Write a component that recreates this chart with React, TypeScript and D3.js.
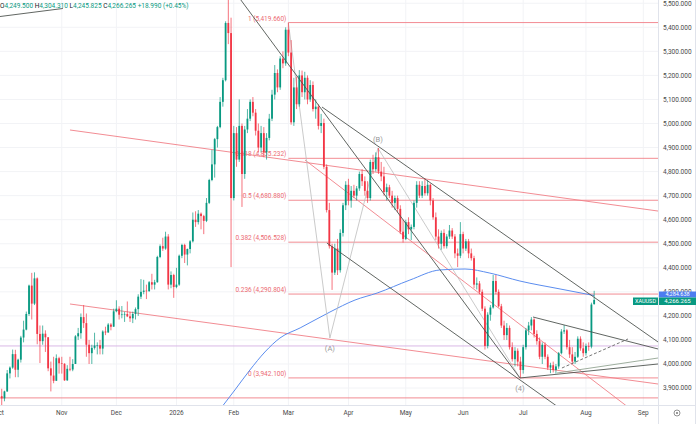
import React, { useEffect } from "react";
import * as d3 from "d3";

// [open, high, low, close] per trading day
type Bar = [number, number, number, number];
type Pt = [number, number]; // [bar index, price]

const octBars: Bar[] = [
  [3858, 3895, 3850, 3866], [3866, 3897, 3820, 3857], [3857, 3889, 3845, 3886],
  [3886, 3975, 3884, 3961], [3961, 3990, 3940, 3985], [3985, 4060, 3980, 4041],
  [4041, 4059, 3945, 3976], [3976, 4022, 3945, 4018], [4018, 4117, 4006, 4110],
  [4110, 4180, 4090, 4143], [4143, 4218, 4140, 4208], [4208, 4330, 4200, 4326],
  [4326, 4379, 4185, 4251], [4251, 4381, 4245, 4356], [4356, 4360, 4082, 4125],
  [4125, 4160, 4004, 4095], [4095, 4160, 4080, 4126], [4126, 4140, 4050, 4111],
  [4111, 4112, 3970, 3982], [3982, 4010, 3886, 3952], [3952, 4030, 3920, 3930],
  [3930, 4040, 3930, 4024], [4024, 4030, 3960, 4003],
];
const novBars: Bar[] = [
  [4003, 4030, 3960, 4001], [4001, 4003, 3930, 3932], [3932, 3995, 3930, 3980],
  [3980, 4030, 3970, 3977], [3977, 4020, 3970, 4000], [4000, 4120, 4000, 4115],
  [4115, 4150, 4100, 4128], [4128, 4210, 4105, 4195], [4195, 4245, 4150, 4170],
  [4170, 4210, 4030, 4080], [4080, 4100, 4000, 4045], [4045, 4080, 4000, 4067],
  [4067, 4130, 4060, 4077], [4077, 4090, 4040, 4078], [4078, 4100, 4040, 4064],
  [4064, 4140, 4040, 4135], [4135, 4155, 4120, 4131], [4131, 4170, 4130, 4164],
  [4164, 4170, 4140, 4155], [4155, 4230, 4155, 4219],
];
const decBars: Bar[] = [
  [4219, 4265, 4215, 4230], [4230, 4240, 4185, 4205], [4205, 4241, 4190, 4206],
  [4206, 4217, 4175, 4208], [4208, 4260, 4195, 4198], [4198, 4217, 4175, 4190],
  [4190, 4218, 4170, 4208], [4208, 4235, 4185, 4228], [4228, 4290, 4200, 4280],
  [4280, 4353, 4270, 4300], [4300, 4350, 4290, 4305], [4305, 4330, 4270, 4303],
  [4303, 4345, 4300, 4340], [4340, 4375, 4310, 4330], [4330, 4350, 4310, 4340],
  [4340, 4450, 4338, 4445], [4445, 4497, 4440, 4490], [4490, 4525, 4470, 4480],
  [4480, 4550, 4475, 4530], [4530, 4540, 4310, 4330], [4330, 4385, 4315, 4370],
  [4370, 4375, 4275, 4320],
];
const janBars: Bar[] = [
  [4320, 4400, 4315, 4330], [4330, 4455, 4325, 4450], [4450, 4500, 4440, 4495],
  [4495, 4500, 4420, 4455], [4455, 4480, 4410, 4478], [4478, 4515, 4460, 4510],
  [4510, 4630, 4505, 4600], [4600, 4635, 4570, 4590], [4590, 4640, 4580, 4625],
  [4625, 4630, 4560, 4615], [4615, 4620, 4540, 4595], [4595, 4690, 4590, 4670],
  [4670, 4770, 4665, 4765], [4765, 4890, 4760, 4830], [4830, 4940, 4775, 4935],
  [4935, 4990, 4900, 4985], [4985, 5110, 4980, 5090], [5090, 5190, 5070, 5180],
  [5180, 5425, 5175, 5418], [5418, 5595, 5330, 5376], [5376, 5440, 4403, 4690],
];
const febBars: Bar[] = [
  [4690, 4990, 4680, 4960], [4960, 4985, 4820, 4850], [4850, 5100, 4840, 4990],
  [4990, 5000, 4653, 4790], [4790, 4990, 4770, 4975], [4975, 5060, 4960, 5020],
  [5020, 5100, 5010, 5090], [5090, 5110, 5030, 5045], [5045, 5060, 4950, 4970],
  [4970, 5000, 4880, 4900], [4900, 4990, 4880, 4960], [4960, 4985, 4860, 4880],
  [4880, 4960, 4850, 4940], [4940, 5040, 4930, 5020], [5020, 5140, 5010, 5120],
  [5120, 5243, 5100, 5210], [5210, 5225, 5130, 5150], [5150, 5280, 5140, 5270],
  [5270, 5300, 5230, 5250], [5250, 5400, 5240, 5390],
];
const marBars: Bar[] = [
  [5390, 5419.66, 5280, 5295], [5295, 5347, 4995, 5005], [5005, 5190, 4990, 5150],
  [5150, 5195, 5060, 5080], [5080, 5222, 5070, 5200], [5200, 5220, 5110, 5130],
  [5130, 5215, 5100, 5190], [5190, 5200, 5080, 5100], [5100, 5180, 5090, 5160],
  [5160, 5175, 5050, 5060], [5060, 5100, 5020, 5070], [5070, 5080, 4975, 4990],
  [4990, 5040, 4960, 5002], [5002, 5020, 4810, 4820], [4820, 4830, 4630, 4640],
  [4640, 4670, 4480, 4490], [4490, 4500, 4308, 4380], [4380, 4500, 4370, 4480],
  [4480, 4520, 4370, 4390], [4390, 4560, 4380, 4545], [4545, 4670, 4530, 4660],
  [4660, 4760, 4640, 4745],
];
const aprBars: Bar[] = [
  [4745, 4770, 4660, 4680], [4680, 4740, 4650, 4720], [4720, 4745, 4690, 4700],
  [4700, 4740, 4680, 4730], [4730, 4800, 4720, 4790], [4790, 4810, 4740, 4760],
  [4760, 4780, 4700, 4720], [4720, 4760, 4670, 4690], [4690, 4850, 4680, 4840],
  [4840, 4870, 4790, 4810], [4810, 4880, 4800, 4860], [4860, 4898, 4790, 4800],
  [4800, 4840, 4760, 4780], [4780, 4820, 4700, 4715], [4715, 4750, 4680, 4735],
  [4735, 4745, 4690, 4700], [4700, 4720, 4650, 4670], [4670, 4700, 4640, 4690],
  [4690, 4700, 4630, 4645], [4645, 4660, 4540, 4550], [4550, 4600, 4505, 4520],
];
const mayBars: Bar[] = [
  [4520, 4600, 4515, 4590], [4590, 4610, 4540, 4560], [4560, 4580, 4515, 4570],
  [4570, 4680, 4560, 4670], [4670, 4760, 4650, 4745], [4745, 4760, 4690, 4700],
  [4700, 4760, 4690, 4740], [4740, 4773, 4700, 4710], [4710, 4765, 4700, 4745],
  [4745, 4750, 4660, 4680], [4680, 4690, 4600, 4610], [4610, 4630, 4515, 4530],
  [4530, 4560, 4480, 4500], [4500, 4555, 4475, 4545], [4545, 4560, 4480, 4490],
  [4490, 4540, 4480, 4530], [4530, 4578, 4520, 4555], [4555, 4565, 4520, 4530],
  [4530, 4540, 4440, 4460], [4460, 4480, 4403, 4450], [4450, 4590, 4440, 4540],
];
const junBars: Bar[] = [
  [4540, 4550, 4460, 4480], [4480, 4520, 4470, 4510], [4510, 4520, 4440, 4460],
  [4460, 4480, 4430, 4440], [4440, 4450, 4315, 4330], [4330, 4360, 4310, 4335],
  [4335, 4345, 4290, 4300], [4300, 4310, 4220, 4230], [4230, 4240, 4060, 4075],
  [4075, 4215, 4065, 4205], [4205, 4245, 4180, 4235], [4235, 4370, 4230, 4345],
  [4345, 4370, 4290, 4300], [4300, 4310, 4235, 4240], [4240, 4250, 4150, 4160],
  [4160, 4180, 4100, 4120], [4120, 4170, 4100, 4150], [4150, 4160, 4060, 4070],
  [4070, 4090, 4010, 4020], [4020, 4070, 3990, 4055], [4055, 4065, 3990, 4010],
  [4010, 4030, 3942.1, 3975],
];
const julBars: Bar[] = [
  [3975, 4080, 3960, 4070], [4070, 4150, 4060, 4140], [4140, 4175, 4120, 4160],
  [4160, 4195, 4140, 4185], [4185, 4190, 4110, 4125], [4125, 4140, 4080, 4095],
  [4095, 4110, 4020, 4030], [4030, 4090, 4000, 4080], [4080, 4090, 4020, 4030],
  [4030, 4040, 3975, 3985], [3985, 4005, 3962, 3995], [3995, 4010, 3965, 3975],
  [3975, 4000, 3960, 3990], [3990, 4050, 3980, 4045], [4045, 4145, 4040, 4135],
  [4135, 4162, 4125, 4140], [4140, 4145, 4060, 4070], [4070, 4100, 4025, 4040],
  [4040, 4070, 4000, 4010], [4010, 4050, 4000, 4030], [4030, 4115, 4025, 4105],
  [4105, 4115, 4055, 4065], [4065, 4090, 4030, 4045],
];
const augBars: Bar[] = [
  [4045, 4085, 4035, 4075], [4075, 4090, 4055, 4072],
  [4072, 4255, 4065, 4247.275], [4249.5, 4304.31, 4245.825, 4266.265],
];

const bars: Bar[] = [
  ...octBars, ...novBars, ...decBars, ...janBars, ...febBars, ...marBars,
  ...aprBars, ...mayBars, ...junBars, ...julBars, ...augBars,
];

const monthLabels = ["Oct", "Nov", "Dec", "2026", "Feb", "Mar", "Apr", "May", "Jun", "Jul", "Aug", "Sep"];
const monthStarts = [0, 23, 43, 65, 86, 106, 128, 149, 170, 192, 215, 236];
const priceTicks = [3900, 4000, 4100, 4200, 4300, 4400, 4500, 4600, 4700, 4800, 4900, 5000, 5100, 5200, 5300, 5400, 5500];

const fibRatios = ["1", "0.618", "0.5", "0.382", "0.236", "0"];
const fibPrices = [5419.66, 4855.232, 4680.88, 4506.528, 4290.804, 3942.1];
const fibStart = 106;

const maPoints: Pt[] = [
  [80.2, 3800], [86.4, 3892], [91.9, 3975], [97.4, 4050], [102.9, 4108],
  [110.3, 4150], [121.2, 4216], [130.4, 4266], [138.5, 4295], [150.5, 4349],
  [161.5, 4391], [170.7, 4395], [179.8, 4378], [190.8, 4345], [205.5, 4312],
  [218, 4284.638],
];

const redLines: Pt[][] = [
  [[26, 4973], [241.4, 4636]],
  [[26, 4249.5], [241.4, 3916.8]],
  [[112.1, 4848], [236.6, 3767]],
];
const redLevels = [3859];
const purpleLevels = [4075];
const darkLines: Pt[][] = [
  [[87, 5538], [190.8, 3942]],
  [[118.3, 5068.6], [241.4, 4091.5]],
  [[120.1, 4503.1], [204.8, 3821.2]],
  [[195.6, 4195.4], [241.4, 4062.4]],
  [[190.8, 3941.8], [241.4, 4000]],
  [[-1, 5442.8], [23.4, 5478.2]],
];
const greenLine: Pt[] = [[204.4, 3962.6], [241.4, 4024.9]];
const dashedLine: Pt[] = [[206.2, 3983.4], [230.4, 4104]];
const waveLine: Pt[] = [[106, 5418], [121.2, 4108], [138.8, 4898], [190.8, 3942]];
const waveLabels = ["", "(A)", "(B)", "(4)"];

const UP = "#089981";
const DOWN = "#f23645";
const RED_LINE = "#f07f87";
const FONT = "Roboto, 'DejaVu Sans', sans-serif";

const W = 696;
const H = 424;
const PANE_W = 658;
const PANE_H = 405;

const App: React.FC = () => {
  useEffect(() => {
    document.body.style.margin = "0";
  }, []);

  const x = d3.scaleLinear().domain([0, 236]).range([-1, 643.3]);
  const y = d3.scaleLinear().domain([3829.5, 5513.5]).range([PANE_H, 0]);
  const fmt = d3.format(",.3f");

  const seg = d3
    .line<Pt>()
    .x((d) => x(d[0]))
    .y((d) => y(d[1]));
  const maPath = d3
    .line<Pt>()
    .x((d) => x(d[0]))
    .y((d) => y(d[1]))
    .curve(d3.curveMonotoneX);

  const last = bars[bars.length - 1];
  const prevClose = bars[bars.length - 2][3];
  const chg = last[3] - prevClose;
  const pct = (chg / prevClose) * 100;

  const bodyW = 1.8;

  return (
    <svg width={W} height={H} style={{ display: "block", background: "#fff" }} fontFamily={FONT}>
      <defs>
        <clipPath id="pane">
          <rect x={0} y={0} width={PANE_W} height={PANE_H} />
        </clipPath>
      </defs>

      {/* grid */}
      <g stroke="#f2f3f6" strokeWidth={1}>
        {monthStarts.map((m, k) => (
          <line key={"gx" + k} x1={x(m)} x2={x(m)} y1={0} y2={PANE_H} />
        ))}
        {priceTicks.map((p) => (
          <line key={"gy" + p} x1={0} x2={PANE_W} y1={y(p)} y2={y(p)} />
        ))}
      </g>

      <g clipPath="url(#pane)">
        {/* horizontal levels */}
        {redLevels.map((p) => (
          <line key={"rl" + p} x1={0} x2={PANE_W} y1={y(p)} y2={y(p)} stroke={RED_LINE} strokeWidth={0.9} />
        ))}
        {purpleLevels.map((p) => (
          <line key={"pl" + p} x1={0} x2={PANE_W} y1={y(p)} y2={y(p)} stroke="#d9b8e6" strokeWidth={1} />
        ))}

        {/* fib retracement */}
        {fibPrices.map((p, k) => (
          <g key={"fib" + k}>
            <line x1={x(fibStart)} x2={PANE_W} y1={y(p)} y2={y(p)} stroke={RED_LINE} strokeWidth={0.9} />
            <text
              x={x(fibStart) - 2}
              y={y(p) - 2}
              textAnchor="end"
              fontSize={6.5}
              fill="#ec6a72"
            >
              {`${fibRatios[k]} (${fmt(p)})`}
            </text>
          </g>
        ))}

        {/* red trendlines */}
        {redLines.map((l, k) => (
          <path key={"rt" + k} d={seg(l) || ""} fill="none" stroke={RED_LINE} strokeWidth={0.9} />
        ))}

        {/* moving average */}
        <path d={maPath(maPoints) || ""} fill="none" stroke="#5b8def" strokeWidth={1} />

        {/* wave lines */}
        <path d={seg(waveLine) || ""} fill="none" stroke="#bdbdbd" strokeWidth={0.8} />
        {waveLine.map((d, k) =>
          waveLabels[k] ? (
            <text
              key={"wl" + k}
              x={x(d[0])}
              y={y(d[1]) + (k === 2 ? -6 : 13)}
              textAnchor="middle"
              fontSize={7.5}
              fill="#999"
            >
              {waveLabels[k]}
            </text>
          ) : null
        )}

        {/* candles */}
        {bars.map((b, i) => {
          const [o, h, l, c] = b;
          const col = c >= o ? UP : DOWN;
          const top = y(Math.max(o, c));
          const bot = y(Math.min(o, c));
          return (
            <g key={"c" + i}>
              <line x1={x(i)} x2={x(i)} y1={y(h)} y2={y(l)} stroke={col} strokeWidth={0.7} />
              <rect x={x(i) - bodyW / 2} y={top} width={bodyW} height={Math.max(0.6, bot - top)} fill={col} />
            </g>
          );
        })}

        {/* dark trendlines */}
        {darkLines.map((l, k) => (
          <path key={"dt" + k} d={seg(l) || ""} fill="none" stroke="#4f5550" strokeWidth={0.9} />
        ))}
        <path d={seg(greenLine) || ""} fill="none" stroke="#93a593" strokeWidth={0.9} />
        <path d={seg(dashedLine) || ""} fill="none" stroke="#666" strokeWidth={0.9} strokeDasharray="3,2" />
      </g>

      {/* axes frame */}
      <line x1={PANE_W + 0.5} x2={PANE_W + 0.5} y1={0} y2={H} stroke="#e0e3eb" />
      <line x1={0} x2={W} y1={PANE_H + 0.5} y2={PANE_H + 0.5} stroke="#e0e3eb" />
      <line x1={W - 0.5} x2={W - 0.5} y1={0} y2={H} stroke="#e0e3eb" />

      {/* price axis */}
      {priceTicks.map((p) => (
        <text key={"pt" + p} x={663} y={y(p)} dy="0.35em" fontSize={6.5} fill="#4a4a4a">
          {fmt(p)}
        </text>
      ))}

      {/* time axis */}
      {monthStarts.map((m, k) => (
        <text key={"mt" + k} x={x(m)} y={415} textAnchor="middle" fontSize={6.5} fill="#4a4a4a">
          {monthLabels[k]}
        </text>
      ))}
      <circle cx={677} cy={413} r={3} fill="none" stroke="#777" strokeWidth={0.8} />
      <circle cx={677} cy={413} r={1} fill="#777" />

      {/* last value labels */}
      <rect x={659} y={291.5} width={37} height={6} fill="#4c7cf0" />
      <text x={677.5} y={294.5} dy="0.35em" textAnchor="middle" fontSize={5.5} fill="#fff">
        {fmt(maPoints[maPoints.length - 1][1])}
      </text>
      <rect x={659} y={297.5} width={37} height={7.5} fill={UP} />
      <text x={677.5} y={301.3} dy="0.35em" textAnchor="middle" fontSize={6} fill="#fff">
        {fmt(last[3])}
      </text>
      <rect x={633} y={297.5} width={25} height={7.5} fill={UP} />
      <text x={645.5} y={301.3} dy="0.35em" textAnchor="middle" fontSize={5.5} fill="#fff">
        XAUUSD
      </text>

      {/* legend */}
      <text x={0} y={7.5} fontSize={6.5}>
        <tspan fill="#131722">O</tspan>
        <tspan fill={UP}>{fmt(last[0])}</tspan>
        <tspan fill="#131722"> H</tspan>
        <tspan fill={UP}>{fmt(last[1])}</tspan>
        <tspan fill="#131722"> L</tspan>
        <tspan fill={UP}>{fmt(last[2])}</tspan>
        <tspan fill="#131722"> C</tspan>
        <tspan fill={UP}>{fmt(last[3])}</tspan>
        <tspan fill={UP}>{` ${chg >= 0 ? "+" : ""}${fmt(chg)} (${chg >= 0 ? "+" : ""}${pct.toFixed(2)}%)`}</tspan>
      </text>
    </svg>
  );
};

export default App;
